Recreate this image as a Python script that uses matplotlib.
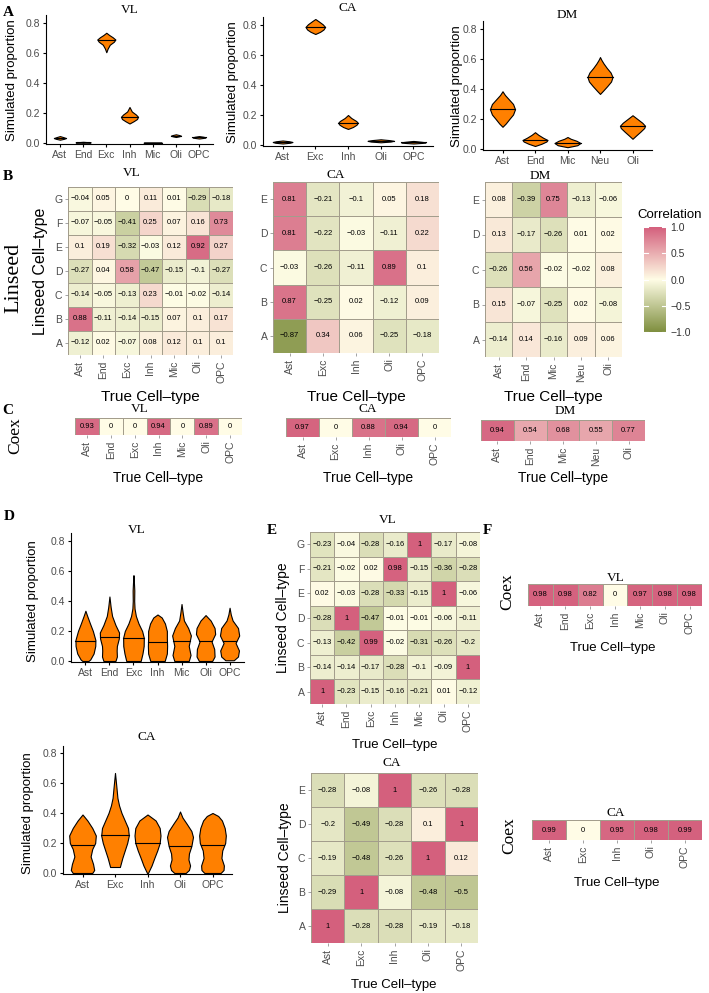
import numpy as np
import matplotlib
matplotlib.use('Agg')
import matplotlib.pyplot as plt
from matplotlib.colors import LinearSegmentedColormap

# ---------------- DATA ----------------
# Panel A violins (profile knots: y values and full widths in category units)
A_VL_cats = ['Ast', 'End', 'Exc', 'Inh', 'Mic', 'Oli', 'OPC']
A_VL_y = [[0.022, 0.028, 0.033, 0.039, 0.046],
          [0.001, 0.004, 0.008],
          [0.605, 0.63, 0.655, 0.675, 0.69, 0.705, 0.72, 0.735],
          [0.13, 0.145, 0.16, 0.175, 0.19, 0.21, 0.24],
          [0.0, 0.002, 0.004],
          [0.04, 0.045, 0.049, 0.053, 0.058],
          [0.03, 0.034, 0.038, 0.042, 0.046]]
A_VL_w = [[0, 0.35, 0.52, 0.3, 0],
          [0, 0.65, 0],
          [0, 0.12, 0.3, 0.65, 0.78, 0.55, 0.25, 0],
          [0, 0.35, 0.65, 0.73, 0.55, 0.2, 0],
          [0, 0.78, 0],
          [0, 0.3, 0.43, 0.28, 0],
          [0, 0.4, 0.57, 0.35, 0]]
A_VL_med = [0.033, 0.005, 0.685, 0.175, 0.002, 0.049, 0.038]

A_CA_cats = ['Ast', 'Exc', 'Inh', 'Oli', 'OPC']
A_CA_y = [[0.01, 0.015, 0.02, 0.025, 0.03],
          [0.74, 0.755, 0.77, 0.787, 0.805, 0.825, 0.84],
          [0.107, 0.12, 0.135, 0.148, 0.16, 0.18, 0.2],
          [0.018, 0.023, 0.028, 0.033, 0.038],
          [0.01, 0.014, 0.018, 0.022, 0.027]]
A_CA_w = [[0, 0.45, 0.6, 0.4, 0],
          [0, 0.3, 0.5, 0.6, 0.45, 0.2, 0],
          [0, 0.3, 0.52, 0.6, 0.5, 0.2, 0],
          [0, 0.6, 0.8, 0.5, 0],
          [0, 0.55, 0.75, 0.45, 0]]
A_CA_med = [0.02, 0.787, 0.148, 0.028, 0.018]

A_DM_cats = ['Ast', 'End', 'Mic', 'Neu', 'Oli']
A_DM_y = [[0.148, 0.17, 0.2, 0.23, 0.265, 0.3, 0.33, 0.36, 0.385],
          [0.02, 0.035, 0.05, 0.06, 0.075, 0.095, 0.112],
          [0.012, 0.025, 0.04, 0.055, 0.068, 0.08],
          [0.367, 0.39, 0.42, 0.45, 0.48, 0.51, 0.54, 0.57, 0.595, 0.613],
          [0.068, 0.09, 0.115, 0.14, 0.155, 0.175, 0.2, 0.225]]
A_DM_w = [[0, 0.2, 0.42, 0.65, 0.77, 0.65, 0.4, 0.15, 0],
          [0, 0.4, 0.7, 0.77, 0.5, 0.2, 0],
          [0, 0.6, 0.8, 0.55, 0.2, 0],
          [0, 0.2, 0.45, 0.68, 0.77, 0.65, 0.42, 0.22, 0.08, 0],
          [0, 0.22, 0.48, 0.72, 0.77, 0.6, 0.3, 0]]
A_DM_med = [0.265, 0.058, 0.04, 0.48, 0.152]

# Panel D violins
D_VL_cats = ['Ast', 'End', 'Exc', 'Inh', 'Mic', 'Oli', 'OPC']
D_VL_y = [[0.0, 0.01, 0.05, 0.1, 0.14, 0.2, 0.25, 0.3, 0.335],
          [0.0, 0.03, 0.07, 0.1, 0.15, 0.19, 0.24, 0.3, 0.36, 0.43],
          [0.0, 0.05, 0.1, 0.155, 0.2, 0.25, 0.3, 0.35, 0.4, 0.47, 0.52, 0.572],
          [0.0, 0.05, 0.1, 0.15, 0.2, 0.25, 0.29, 0.31],
          [0.0, 0.04, 0.1, 0.17, 0.22, 0.27, 0.32, 0.38],
          [0.0, 0.03, 0.08, 0.13, 0.18, 0.22, 0.27, 0.306],
          [0.005, 0.03, 0.07, 0.12, 0.17, 0.22, 0.27, 0.31, 0.355]]
D_VL_w = [[0.25, 0.4, 0.68, 0.82, 0.83, 0.62, 0.38, 0.15, 0],
          [0.5, 0.62, 0.6, 0.62, 0.78, 0.8, 0.5, 0.22, 0.1, 0],
          [0.6, 0.75, 0.85, 0.86, 0.72, 0.42, 0.2, 0.09, 0.06, 0.07, 0.04, 0],
          [0.6, 0.78, 0.8, 0.78, 0.78, 0.62, 0.35, 0],
          [0.6, 0.75, 0.6, 0.78, 0.55, 0.2, 0.1, 0],
          [0.55, 0.75, 0.72, 0.5, 0.8, 0.75, 0.42, 0],
          [0.35, 0.7, 0.78, 0.5, 0.8, 0.7, 0.25, 0.1, 0]]
D_VL_med = [0.135, 0.163, 0.155, 0.13, 0.133, 0.132, 0.132]

D_CA_cats = ['Ast', 'Exc', 'Inh', 'Oli', 'OPC']
D_CA_y = [[0.0, 0.02, 0.06, 0.11, 0.16, 0.2, 0.25, 0.3, 0.35, 0.39],
          [0.04, 0.1, 0.15, 0.2, 0.25, 0.3, 0.35, 0.4, 0.45, 0.5, 0.58, 0.667],
          [0.0, 0.05, 0.1, 0.15, 0.2, 0.25, 0.3, 0.35, 0.39],
          [0.0, 0.02, 0.05, 0.09, 0.13, 0.18, 0.24, 0.28, 0.33, 0.37, 0.41],
          [0.0, 0.02, 0.05, 0.1, 0.15, 0.2, 0.25, 0.3, 0.35, 0.38, 0.4]]
D_CA_w = [[0.6, 0.72, 0.65, 0.5, 0.6, 0.78, 0.82, 0.6, 0.3, 0],
          [0.3, 0.45, 0.6, 0.75, 0.85, 0.8, 0.6, 0.4, 0.25, 0.15, 0.08, 0],
          [0.03, 0.25, 0.42, 0.6, 0.75, 0.8, 0.75, 0.5, 0],
          [0.35, 0.55, 0.62, 0.52, 0.55, 0.7, 0.8, 0.7, 0.4, 0.15, 0],
          [0.5, 0.68, 0.7, 0.55, 0.6, 0.78, 0.82, 0.75, 0.58, 0.35, 0]]
D_CA_med = [0.185, 0.255, 0.2, 0.18, 0.185]

# Panel B correlation heatmaps (rows listed top to bottom)
B_VL_rows = ['G', 'F', 'E', 'D', 'C', 'B', 'A']
B_VL_cols = ['Ast', 'End', 'Exc', 'Inh', 'Mic', 'Oli', 'OPC']
B_VL = [[-0.04, 0.05, 0, 0.11, 0.01, -0.29, -0.18],
        [-0.07, -0.05, -0.41, 0.25, 0.07, 0.16, 0.73],
        [0.1, 0.19, -0.32, -0.03, 0.12, 0.92, 0.27],
        [-0.27, 0.04, 0.58, -0.47, -0.15, -0.1, -0.27],
        [-0.14, -0.05, -0.13, 0.23, -0.01, -0.02, -0.14],
        [0.88, -0.11, -0.14, -0.15, 0.07, 0.1, 0.17],
        [-0.12, 0.02, -0.07, 0.08, 0.12, 0.1, 0.1]]
B_CA_rows = ['E', 'D', 'C', 'B', 'A']
B_CA_cols = ['Ast', 'Exc', 'Inh', 'Oli', 'OPC']
B_CA = [[0.81, -0.21, -0.1, 0.05, 0.18],
        [0.81, -0.22, -0.03, -0.11, 0.22],
        [-0.03, -0.26, -0.11, 0.89, 0.1],
        [0.87, -0.25, 0.02, -0.12, 0.09],
        [-0.87, 0.34, 0.06, -0.25, -0.18]]
B_DM_rows = ['E', 'D', 'C', 'B', 'A']
B_DM_cols = ['Ast', 'End', 'Mic', 'Neu', 'Oli']
B_DM = [[0.08, -0.39, 0.75, -0.13, -0.06],
        [0.13, -0.17, -0.26, 0.01, 0.02],
        [-0.26, 0.56, -0.02, -0.02, 0.08],
        [0.15, -0.07, -0.25, 0.02, -0.08],
        [-0.14, 0.14, -0.16, 0.09, 0.06]]

# Panel C coex
C_VL = [0.93, 0, 0, 0.94, 0, 0.89, 0]
C_CA = [0.97, 0, 0.88, 0.94, 0]
C_DM = [0.94, 0.54, 0.68, 0.55, 0.77]

# Panel E
E_VL_rows = ['G', 'F', 'E', 'D', 'C', 'B', 'A']
E_VL = [[-0.23, -0.04, -0.28, -0.16, 1, -0.17, -0.08],
        [-0.21, -0.02, 0.02, 0.98, -0.15, -0.36, -0.28],
        [0.02, -0.03, -0.28, -0.33, -0.15, 1, -0.06],
        [-0.28, 1, -0.47, -0.01, -0.01, -0.06, -0.11],
        [-0.13, -0.42, 0.99, -0.02, -0.31, -0.26, -0.2],
        [-0.14, -0.14, -0.17, -0.28, -0.1, -0.09, 1],
        [1, -0.23, -0.15, -0.16, -0.21, 0.01, -0.12]]
E_CA_rows = ['E', 'D', 'C', 'B', 'A']
E_CA = [[-0.28, -0.08, 1, -0.26, -0.28],
        [-0.2, -0.49, -0.28, 0.1, 1],
        [-0.19, -0.48, -0.26, 1, 0.12],
        [-0.29, 1, -0.08, -0.48, -0.5],
        [1, -0.28, -0.28, -0.19, -0.18]]

# Panel F
F_VL = [0.98, 0.98, 0.82, 0, 0.97, 0.98, 0.98]
F_CA = [0.99, 0, 0.95, 0.98, 0.99]

# ---------------- STYLE ----------------
W, H = 709, 993
fig = plt.figure(figsize=(W / 100, H / 100), dpi=100)
SANS = ['Liberation Sans', 'DejaVu Sans']
SERIF = ['Liberation Serif', 'DejaVu Serif']
plt.rcParams['font.family'] = SANS
TICKC = '#4D4D4D'
ORANGE = '#FF8000'
EDGE = '#A39D8C'
cmap = LinearSegmentedColormap.from_list('corr', [(0, '#7F8F3F'), (0.5, '#FFFDE6'), (1, '#D4607D')])


def add_ax(x0, y0, x1, y1):
    return fig.add_axes([x0 / W, 1 - y1 / H, (x1 - x0) / W, (y1 - y0) / H])


def ftext(x, y, s, **kw):
    kw.setdefault('ha', 'center')
    kw.setdefault('va', 'center')
    fig.text(x / W, 1 - y / H, s, **kw)


def fmt(v):
    return ('%g' % v).replace('-', '\u2212')


def violin_panel(box, zero_px, top_px, cats, ys, ws, meds):
    x0, y0, x1, y1 = box
    ax = add_ax(*box)
    ppu = (zero_px - top_px) / 0.8
    ax.set_ylim((zero_px - y1) / ppu, (zero_px - y0) / ppu)
    n = len(cats)
    ax.set_xlim(0.4, n + 0.6)
    pos = np.arange(1, n + 1)
    stats = [dict(coords=np.array(y, float), vals=np.array(w, float), mean=m, median=m,
                  min=y[0], max=y[-1]) for y, w, m in zip(ys, ws, meds)]
    parts = ax.violin(stats, positions=pos, widths=[max(w) for w in ws],
                      showmeans=False, showextrema=False, showmedians=False)
    for b in parts['bodies']:
        b.set_facecolor(ORANGE)
        b.set_edgecolor('black')
        b.set_linewidth(0.8)
        b.set_alpha(1)
    for p, y, w, m in zip(pos, ys, ws, meds):
        hw = np.interp(m, y, w) / 2
        ax.plot([p - hw, p + hw], [m, m], color='black', lw=0.8)
    for s in ['top', 'right']:
        ax.spines[s].set_visible(False)
    for s in ['left', 'bottom']:
        ax.spines[s].set_linewidth(0.8)
    ax.set_yticks([0, 0.2, 0.4, 0.6, 0.8])
    ax.set_yticklabels(['0.0', '0.2', '0.4', '0.6', '0.8'])
    ax.set_xticks(pos)
    ax.set_xticklabels(cats)
    ax.tick_params(length=2.5, width=0.8, labelsize=7.5, labelcolor=TICKC, pad=1.5)
    return ax


def heatmap(box, data, rows, cols, cellfs=5.5, tickfs=7.5, show_rows=True):
    ax = add_ax(*box)
    d = np.array(data, float)
    nr, nc = d.shape
    ax.pcolormesh(np.arange(nc + 1), np.arange(nr + 1), d, cmap=cmap, vmin=-1, vmax=1,
                  edgecolors=EDGE, linewidth=0.6)
    ax.set_xlim(0, nc)
    ax.set_ylim(nr, 0)
    for i in range(nr):
        for j in range(nc):
            ax.text(j + 0.5, i + 0.5, fmt(d[i, j]), ha='center', va='center', fontsize=cellfs)
    ax.set_xticks(np.arange(nc) + 0.5)
    ax.set_xticklabels(cols, rotation=90)
    if show_rows:
        ax.set_yticks(np.arange(nr) + 0.5)
        ax.set_yticklabels(rows)
    else:
        ax.set_yticks([])
    ax.tick_params(length=2, width=0.5, color='#7F7F7F', labelsize=tickfs, labelcolor=TICKC, pad=2)
    for s in ax.spines.values():
        s.set_visible(False)
    return ax


# ---------------- PANEL A ----------------
violin_panel((46, 15, 213, 144), 143, 23, A_VL_cats, A_VL_y, A_VL_w, A_VL_med)
violin_panel((263, 17, 433, 146), 145, 25, A_CA_cats, A_CA_y, A_CA_w, A_CA_med)
violin_panel((483, 21, 652, 150), 149, 29, A_DM_cats, A_DM_y, A_DM_w, A_DM_med)
ftext(130, 10, 'VL', family=SERIF, fontsize=9.5)
ftext(348, 8, 'CA', family=SERIF, fontsize=9.5)
ftext(567, 15, 'DM', family=SERIF, fontsize=9.5)
ftext(12, 80, 'Simulated proportion', rotation=90, fontsize=9.5)
ftext(233, 82, 'Simulated proportion', rotation=90, fontsize=9.5)
ftext(457, 86, 'Simulated proportion', rotation=90, fontsize=9.5)
ftext(8, 12, 'A', family=SERIF, fontsize=11, weight='bold')

# ---------------- PANEL B ----------------
heatmap((68, 187, 233, 355), B_VL, B_VL_rows, B_VL_cols)
heatmap((273, 182, 439, 353), B_CA, B_CA_rows, B_CA_cols)
heatmap((485, 182, 622, 357), B_DM, B_DM_rows, B_DM_cols)
ftext(132, 173, 'VL', family=SERIF, fontsize=9.5)
ftext(336, 175, 'CA', family=SERIF, fontsize=9.5)
ftext(540, 176, 'DM', family=SERIF, fontsize=9.5)
ftext(40, 271, 'Linseed Cell\u2013type', rotation=90, fontsize=11.5)
ftext(150, 397, 'True Cell\u2013type', fontsize=11)
ftext(356, 397, 'True Cell\u2013type', fontsize=11)
ftext(553, 397, 'True Cell\u2013type', fontsize=11)
ftext(14, 278, 'Linseed', family=SERIF, fontsize=16, rotation=90)
ftext(8, 176, 'B', family=SERIF, fontsize=11, weight='bold')

# colorbar
axc = add_ax(644, 227, 666, 332)
axc.imshow(np.linspace(1, -1, 256)[:, None], aspect='auto', cmap=cmap, vmin=-1, vmax=1,
           extent=[0, 1, -1, 1])
axc.set_xlim(0, 1)
axc.set_ylim(-1, 1)
for v in [-1, -0.5, 0, 0.5, 1]:
    axc.plot([0, 0.2], [v, v], color='white', lw=0.8)
    axc.plot([0.8, 1], [v, v], color='white', lw=0.8)
axc.set_xticks([])
axc.yaxis.tick_right()
axc.set_yticks([-1, -0.5, 0, 0.5, 1])
axc.set_yticklabels(['\u22121.0', '\u22120.5', '0.0', '0.5', '1.0'])
axc.tick_params(length=0, labelsize=7.5, labelcolor='#333333', pad=3)
for s in axc.spines.values():
    s.set_visible(False)
ftext(637, 215, 'Correlation', fontsize=9.5, ha='left')

# ---------------- PANEL C ----------------
heatmap((75, 418, 242, 435), [C_VL], [''], B_VL_cols, show_rows=False)
heatmap((286, 418, 451, 437), [C_CA], [''], B_CA_cols, show_rows=False)
heatmap((481, 420, 645, 441), [C_DM], [''], B_DM_cols, show_rows=False)
ftext(140, 409, 'VL', family=SERIF, fontsize=9.5)
ftext(368, 409, 'CA', family=SERIF, fontsize=9.5)
ftext(565, 411, 'DM', family=SERIF, fontsize=9.5)
ftext(158, 478, 'True Cell\u2013type', fontsize=10)
ftext(368, 478, 'True Cell\u2013type', fontsize=10)
ftext(563, 478, 'True Cell\u2013type', fontsize=10)
ftext(15, 436, 'Coex', family=SERIF, fontsize=12.5, rotation=90)
ftext(8, 410, 'C', family=SERIF, fontsize=11, weight='bold')

# ---------------- PANEL D ----------------
violin_panel((71, 533, 244, 662), 661, 541, D_VL_cats, D_VL_y, D_VL_w, D_VL_med)
violin_panel((63, 746, 232, 874), 873, 753, D_CA_cats, D_CA_y, D_CA_w, D_CA_med)
ftext(137, 530, 'VL', family=SERIF, fontsize=9.5)
ftext(147, 737, 'CA', family=SERIF, fontsize=9.5)
ftext(33, 601, 'Simulated proportion', rotation=90, fontsize=9.5)
ftext(28, 813, 'Simulated proportion', rotation=90, fontsize=9.5)
ftext(9, 517, 'D', family=SERIF, fontsize=11, weight='bold')

# ---------------- PANEL E ----------------
heatmap((310, 532, 480, 704), E_VL, E_VL_rows, B_VL_cols)
heatmap((311, 773, 478, 943), E_CA, E_CA_rows, B_CA_cols)
ftext(388, 520, 'VL', family=SERIF, fontsize=9.5)
ftext(392, 763, 'CA', family=SERIF, fontsize=9.5)
ftext(283, 618, 'Linseed Cell\u2013type', rotation=90, fontsize=10)
ftext(285, 858, 'Linseed Cell\u2013type', rotation=90, fontsize=10)
ftext(395, 745, 'True Cell\u2013type', fontsize=9.5)
ftext(394, 985, 'True Cell\u2013type', fontsize=9.5)
ftext(272, 530, 'E', family=SERIF, fontsize=11, weight='bold')

# ---------------- PANEL F ----------------
heatmap((528, 584, 702, 606), [F_VL], [''], B_VL_cols, show_rows=False)
heatmap((532, 820, 702, 840), [F_CA], [''], B_CA_cols, show_rows=False)
ftext(616, 578, 'VL', family=SERIF, fontsize=9.5)
ftext(616, 813, 'CA', family=SERIF, fontsize=9.5)
ftext(507, 592, 'Coex', family=SERIF, fontsize=12.5, rotation=90)
ftext(509, 836, 'Coex', family=SERIF, fontsize=12.5, rotation=90)
ftext(613, 648, 'True Cell\u2013type', fontsize=9.5)
ftext(617, 883, 'True Cell\u2013type', fontsize=9.5)
ftext(487, 530, 'F', family=SERIF, fontsize=11, weight='bold')

fig.savefig('out.png', dpi=100)
